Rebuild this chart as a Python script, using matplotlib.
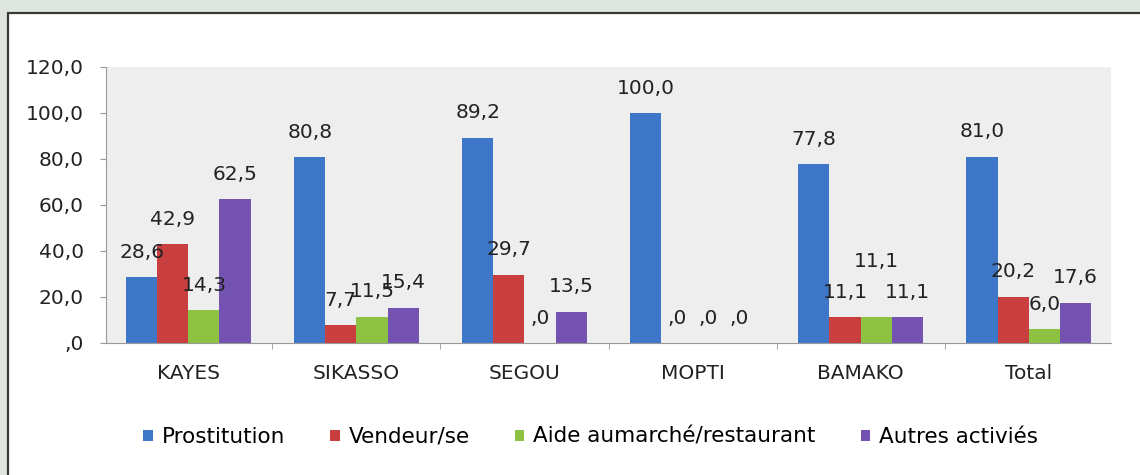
import numpy as np
import matplotlib
matplotlib.use("Agg")
import matplotlib.pyplot as plt
from matplotlib.patches import Rectangle

# Données
regions = ["KAYES", "SIKASSO", "SEGOU", "MOPTI", "BAMAKO", "Total"]
prostitution = [28.6, 80.8, 89.2, 100.0, 77.8, 81.0]
vendeur = [42.9, 7.7, 29.7, 0.0, 11.1, 20.2]
aide = [14.3, 11.5, 0.0, 0.0, 11.1, 6.0]
autres = [62.5, 15.4, 13.5, 0.0, 11.1, 17.6]
series_names = ["Prostitution", "Vendeur/se", "Aide aumarché/restaurant", "Autres activiés"]
yticks = [0, 20, 40, 60, 80, 100, 120]

colors = ["#3f77c8", "#c93e3e", "#8ec243", "#7452b2"]


def fmt(v):
    s = f"{v:.1f}".replace(".", ",")
    if s.startswith("0,"):
        s = s[1:]
    return s


plt.rcParams["font.family"] = "DejaVu Sans"
fs = 14.5

fig = plt.figure(figsize=(11.4, 4.75), dpi=100)
fig.patch.set_facecolor("#dfe5df")

# panneau blanc avec bordure
panel = Rectangle((8 / 1140, -0.1), 1.1, 0.1 + (475 - 13) / 475,
                  transform=fig.transFigure, facecolor="white",
                  edgecolor="#3a3a3a", lw=1.6, zorder=-10)
fig.patches.append(panel)

ax = fig.add_axes([106 / 1140, (475 - 343) / 475, (1111 - 106) / 1140, (343 - 67) / 475])
ax.set_facecolor("#eeeeee")

x = np.arange(len(regions))
w = 0.185
data = [prostitution, vendeur, aide, autres]
extra = {(4, 2): 22}  # étiquette décalée (BAMAKO, aide)

for k, (vals, name, c) in enumerate(zip(data, series_names, colors)):
    pos = x + (k - 1.5) * w
    ax.bar(pos, vals, width=w, color=c, label=name, zorder=2)
    for i, (p, v) in enumerate(zip(pos, vals)):
        off = 18 + extra.get((i, k), 0)
        ax.annotate(fmt(v), (p, v), xytext=(0, off), textcoords="offset points",
                    ha="center", va="center", fontsize=fs, color="#222222", zorder=3)

ax.set_xlim(-0.49, 5.49)
ax.set_ylim(0, 120)
ax.set_yticks(yticks)
ax.set_yticklabels([fmt(t) for t in yticks], fontsize=fs, color="#222222")
ax.set_xticks(x)
ax.set_xticklabels(regions, fontsize=fs, color="#222222")
ax.set_xticks(x[:-1] + 0.5, minor=True)
ax.tick_params(axis="x", which="major", length=0, pad=15)
ax.tick_params(axis="x", which="minor", length=4, color="#999999")
ax.tick_params(axis="y", length=4, color="#999999", pad=12)

for s in ["top", "right"]:
    ax.spines[s].set_visible(False)
ax.spines["left"].set_color("#999999")
ax.spines["bottom"].set_color("#999999")

fig.legend(loc="center", bbox_to_anchor=(0.518, 0.08), ncol=4, frameon=False,
           fontsize=15.5, handlelength=0.45, handleheight=0.45,
           handletextpad=0.4, columnspacing=2.1)

fig.savefig("out.png", dpi=100, facecolor=fig.get_facecolor())
